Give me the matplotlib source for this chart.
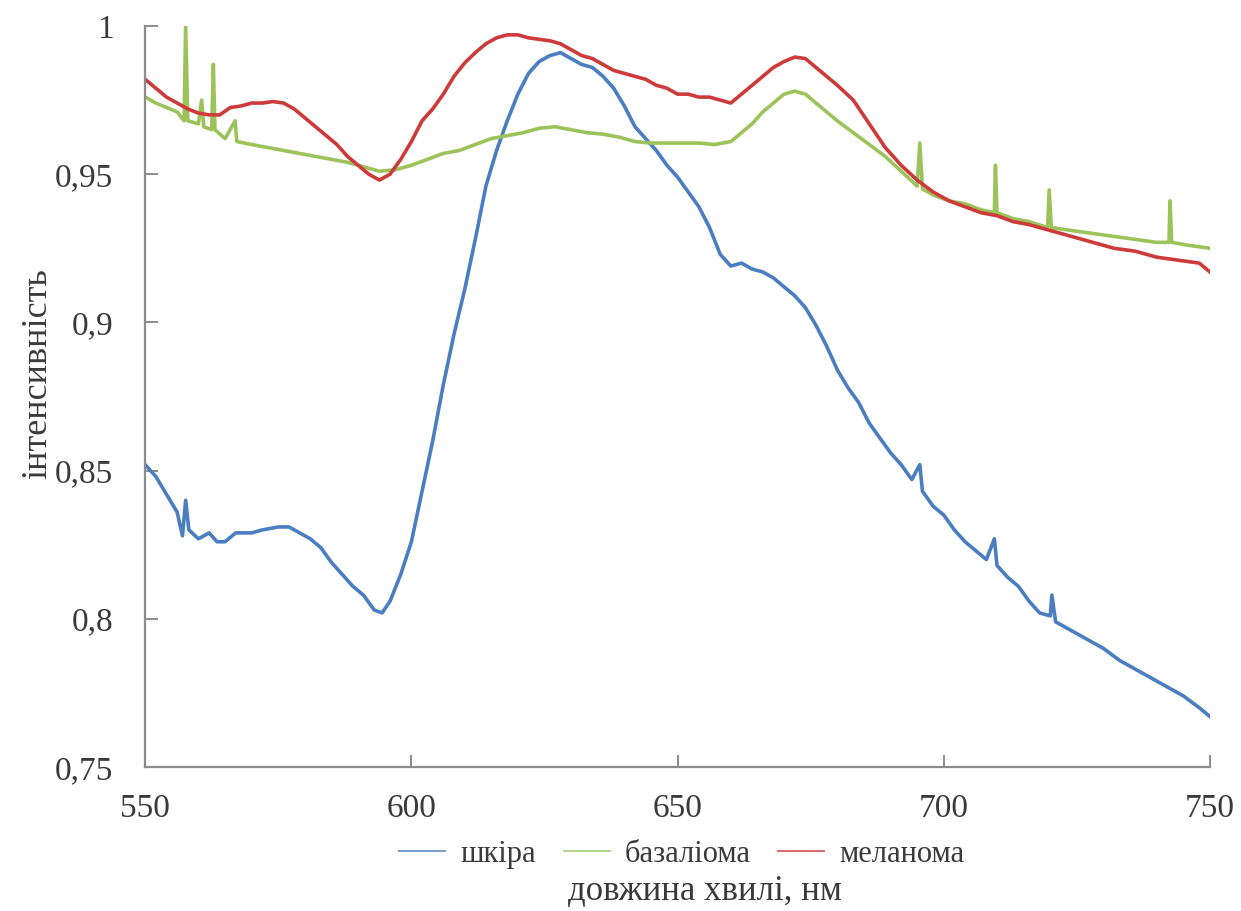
import matplotlib
matplotlib.use("Agg")
import matplotlib.pyplot as plt
from matplotlib.ticker import FixedLocator, FuncFormatter

plt.rcParams['font.family'] = ['Liberation Serif', 'DejaVu Serif']

# Spectra: wavelength (nm) and normalized intensity
skin_nm = [550, 552, 554, 556, 557, 557.6, 558.2, 560, 562, 563.5, 565, 567, 570, 572, 575,
           577, 579, 581, 583, 585, 587, 589, 591, 593, 594.5, 596, 598, 600, 602, 604, 606,
           608, 610, 612, 614, 616, 618, 620, 622, 624, 626, 628, 630, 632, 634, 636, 638,
           640, 642, 644, 646, 648, 650, 652, 654, 656, 658, 660, 662, 664, 666, 668, 670,
           672, 674, 676, 678, 680, 682, 684, 686, 688, 690, 692, 694, 695.5, 696, 698, 700,
           702, 704, 706, 708, 709.5, 710, 712, 714, 716, 718, 720, 720.3, 721, 724, 727,
           730, 733, 736, 739, 742, 745, 748, 750]
skin_val = [0.852, 0.848, 0.842, 0.836, 0.828, 0.840, 0.830, 0.827, 0.829, 0.826, 0.826,
            0.829, 0.829, 0.830, 0.831, 0.831, 0.829, 0.827, 0.824, 0.819, 0.815, 0.811,
            0.808, 0.803, 0.802, 0.806, 0.815, 0.826, 0.843, 0.860, 0.879, 0.896, 0.911,
            0.928, 0.946, 0.958, 0.968, 0.977, 0.984, 0.988, 0.990, 0.991, 0.989, 0.987,
            0.986, 0.983, 0.979, 0.973, 0.966, 0.962, 0.958, 0.953, 0.949, 0.944, 0.939,
            0.932, 0.923, 0.919, 0.920, 0.918, 0.917, 0.915, 0.912, 0.909, 0.905, 0.899,
            0.892, 0.884, 0.878, 0.873, 0.866, 0.861, 0.856, 0.852, 0.847, 0.852, 0.843,
            0.838, 0.835, 0.830, 0.826, 0.823, 0.820, 0.827, 0.818, 0.814, 0.811, 0.806,
            0.802, 0.801, 0.808, 0.799, 0.796, 0.793, 0.790, 0.786, 0.783, 0.780, 0.777,
            0.774, 0.770, 0.767]

bcc_nm = [550, 552, 554, 556, 557.3, 557.6, 558, 560, 560.6, 561, 562.5, 562.8, 563.1, 565,
          566.9, 567.2, 570, 573, 576, 579, 582, 585, 588, 591, 594, 597, 600, 603, 606, 609,
          612, 615, 618, 621, 624, 627, 630, 633, 636, 639, 642, 645, 648, 651, 654, 657,
          660, 662, 664, 666, 668, 670, 672, 674, 676, 678, 680, 683, 686, 689, 692, 695,
          695.5, 696, 698, 701, 704, 707, 709.5, 709.7, 710, 713, 716, 719.5, 719.8, 720.2,
          724, 728, 732, 736, 740, 742.3, 742.5, 742.8, 746, 750]
bcc_val = [0.976, 0.974, 0.9725, 0.971, 0.968, 1.000, 0.968, 0.967, 0.975, 0.966, 0.965,
           0.987, 0.965, 0.962, 0.968, 0.961, 0.960, 0.959, 0.958, 0.957, 0.956, 0.955,
           0.954, 0.9525, 0.951, 0.9515, 0.953, 0.955, 0.957, 0.958, 0.960, 0.962, 0.963,
           0.964, 0.9655, 0.966, 0.965, 0.964, 0.9635, 0.9625, 0.961, 0.9605, 0.9605,
           0.9605, 0.9605, 0.960, 0.961, 0.964, 0.967, 0.971, 0.974, 0.977, 0.978, 0.977,
           0.974, 0.971, 0.968, 0.964, 0.960, 0.956, 0.951, 0.946, 0.9605, 0.945, 0.943,
           0.941, 0.940, 0.938, 0.937, 0.953, 0.937, 0.935, 0.934, 0.932, 0.9447, 0.932,
           0.931, 0.930, 0.929, 0.928, 0.927, 0.927, 0.941, 0.927, 0.926, 0.925]

mel_nm = [550, 552, 554, 556, 558, 560, 562, 564, 566, 568, 570, 572, 574, 576, 578, 580,
          582, 584, 586, 588, 590, 592, 594, 596, 598, 600, 602, 604, 606, 608, 610, 612,
          614, 616, 618, 620, 622, 624, 626, 628, 630, 632, 634, 636, 638, 640, 642, 644,
          646, 648, 650, 652, 654, 656, 658, 660, 662, 664, 666, 668, 670, 672, 674, 676,
          678, 680, 683, 686, 689, 692, 695, 698, 701, 704, 707, 710, 713, 716, 720, 724,
          728, 732, 736, 740, 744, 748, 750]
mel_val = [0.982, 0.979, 0.976, 0.974, 0.972, 0.9706, 0.970, 0.970, 0.9725, 0.973, 0.974,
           0.974, 0.9745, 0.974, 0.972, 0.969, 0.966, 0.963, 0.960, 0.956, 0.953, 0.950,
           0.948, 0.950, 0.955, 0.961, 0.968, 0.972, 0.977, 0.983, 0.9875, 0.991, 0.994,
           0.996, 0.997, 0.997, 0.996, 0.9955, 0.995, 0.994, 0.992, 0.990, 0.989, 0.987,
           0.985, 0.984, 0.983, 0.982, 0.980, 0.979, 0.977, 0.977, 0.976, 0.976, 0.975,
           0.974, 0.977, 0.980, 0.983, 0.986, 0.988, 0.9895, 0.989, 0.986, 0.983, 0.980,
           0.975, 0.967, 0.959, 0.953, 0.948, 0.944, 0.941, 0.939, 0.937, 0.936, 0.934,
           0.933, 0.931, 0.929, 0.927, 0.925, 0.924, 0.922, 0.921, 0.920, 0.917]

labels = ['шкіра', 'базаліома', 'меланома']
colors = ['#4A7EC0', '#9BC35A', '#CE3A3A']

x_ticks = [550, 600, 650, 700, 750]
y_ticks = [0.75, 0.8, 0.85, 0.9, 0.95, 1.0]

fig = plt.figure(figsize=(12.41, 9.11), dpi=100)
ax = fig.add_axes([0.117, 0.158, 0.858, 0.8135])

series = [(skin_nm, skin_val), (bcc_nm, bcc_val), (mel_nm, mel_val)]
for (xs, ys), lab, col in zip(series, labels, colors):
    ax.plot(xs, ys, color=col, lw=2.6, label=lab, solid_joinstyle='round')

ax.set_xlim(550, 750)
ax.set_ylim(0.75, 1.0)
ax.xaxis.set_major_locator(FixedLocator(x_ticks))
ax.yaxis.set_major_locator(FixedLocator(y_ticks))


def comma_fmt(v, _pos):
    s = ('%.2f' % v).rstrip('0').rstrip('.')
    return s.replace('.', ',')


ax.yaxis.set_major_formatter(FuncFormatter(comma_fmt))

spine_col = '#8C8C8C'
text_col = '#3A3A3A'
for side in ('top', 'right'):
    ax.spines[side].set_visible(False)
for side in ('left', 'bottom'):
    ax.spines[side].set_color(spine_col)
    ax.spines[side].set_linewidth(1.6)

ax.tick_params(axis='both', direction='in', length=9, width=1.4, color=spine_col,
               labelsize=24, labelcolor=text_col)
ax.tick_params(axis='x', pad=19)
ax.tick_params(axis='y', pad=23)

# Axis titles placed in figure coordinates
fig.text(705 / 1241, 0.021, 'довжина хвилі, нм', fontsize=25, color=text_col,
         ha='center', va='center')
fig.text(38 / 1241, 0.59, 'інтенсивність', fontsize=26, color=text_col,
         ha='center', va='center', rotation=90)

leg_handles = [plt.Line2D([], [], color=c, lw=1.4, alpha=0.75) for c in colors]
fig.legend(leg_handles, labels, loc='center', bbox_to_anchor=(682 / 1241, 0.062),
           ncol=3, frameon=False, fontsize=22, handlelength=1.5, handletextpad=0.5,
           columnspacing=0.9, labelcolor=text_col)

fig.savefig('out.png', dpi=100, facecolor='white')
